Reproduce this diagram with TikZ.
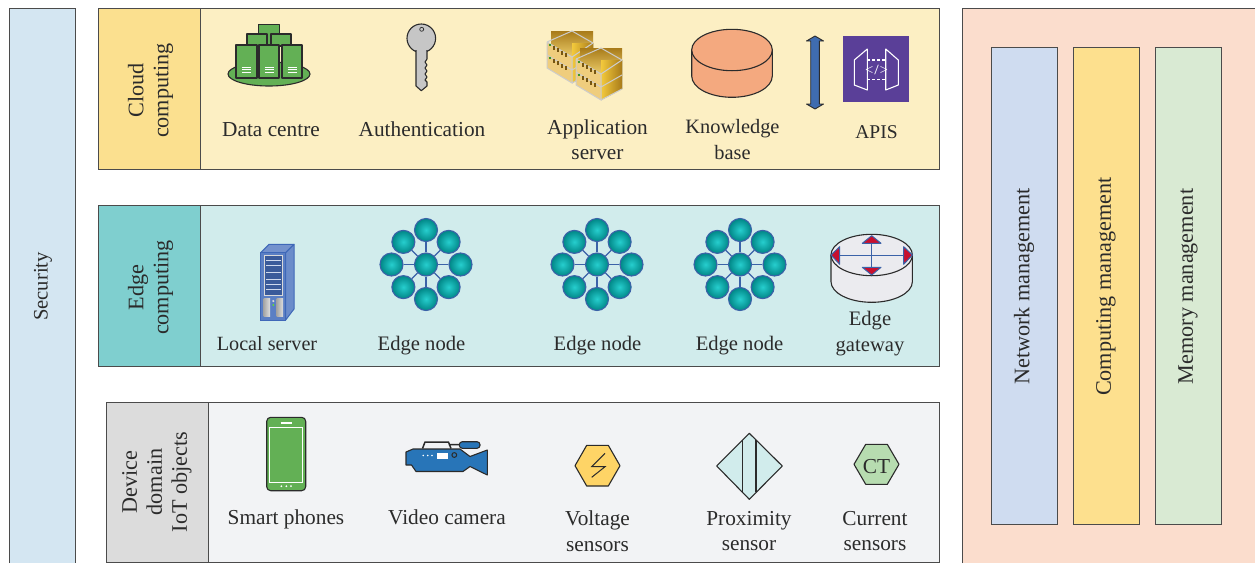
\documentclass[tikz,border=0pt]{standalone}
\usepackage{fontspec}
\setmainfont{Liberation Serif}
\usetikzlibrary{calc}
\definecolor{ink}{HTML}{2B2B2B}
\definecolor{ballblue}{HTML}{3B62A8}
\definecolor{gold1}{HTML}{F3C93C}
\definecolor{gold2}{HTML}{A87B1A}
\definecolor{rackface}{HTML}{E8B845}
\definecolor{securitybg}{RGB}{212,230,242}
\definecolor{rightbg}{RGB}{251,221,205}
\definecolor{salmon}{RGB}{244,169,127}
\definecolor{arrowblue}{RGB}{63,108,176}
\definecolor{apipurple}{RGB}{90,63,152}
\definecolor{voltc}{RGB}{254,212,102}
\definecolor{ctc}{RGB}{183,220,176}
\definecolor{srvdark}{RGB}{58,90,154}
\tikzset{
  x=1pt,y=-1pt,
  every node/.style={font=\fontsize{21.3}{25.5}\selectfont,text=ink,align=center,inner sep=0pt},
  lab/.style={anchor=base},
  ink line/.style={draw=ink,line width=1.1pt,line join=round},
  box line/.style={draw=ink!85,line width=1pt},
  ball/.style={circle,draw=ballblue,line width=1.1pt,minimum size=23pt,inner color=teal!45!cyan!85!white,outer color=teal!95!cyan},
  spoke/.style={draw=ballblue,line width=1.1pt},
  rot/.style={rotate=90,font=\fontsize{22.2}{25}\selectfont},
  pics/edgenode/.style={code={
    \node[ball] (-m) at (0,0) {};
    \foreach \a/\n in {0/a,45/b,90/c,135/d,180/e,225/f,270/g,315/h}{
      \pgfmathsetmacro{\r}{mod(\a,90)==0?34.5:32}
      \node[ball] (-\n) at ({\r*cos(\a)},{\r*sin(\a)}) {};
      \draw[spoke] (-m) -- (-\n);
    }
  }},
  pics/rack/.style={code={
    \fill[top color=gold2,bottom color=gold1!70!white] (4,0) rectangle (46,30);
    \fill[rackface!70!white] (0,11) -- (25,26) -- (25,52) -- (0,37) -- cycle;
    \fill[left color=gold1,right color=gold2] (25,12) -- (46,12) -- (46,41) -- (25,52) -- cycle;
    \draw[gray!40,line width=1pt] (0,11) -- (25,0) -- (46,12) (0,11) -- (25,26) -- (46,12)
      (0,11) -- (0,37) -- (25,52) -- (25,26) (0,24) -- (25,39) -- (46,27) (25,52) -- (46,41);
    \foreach \y in {14,27}{
      \foreach \i in {0,1,2,3}{\fill[gold2!70!black] ({6+\i*4},{\y+\i*2.4+1}) rectangle +(1.6,4);}
      \fill[green!50!black] (3,\y) circle (1.2);
    }
  }}
}
\begin{document}
\begin{tikzpicture}
\useasboundingbox (0,0) rectangle (1255,563);
% side panels
\fill[securitybg] (9,8.5) rectangle (75,563);
\draw[box line] (9,563) -- (9,8.5) -- (75,8.5) -- (75,563);
\node[rot,font=\fontsize{20.6}{25}\selectfont] (security) at (43,286.5) {Security};
\fill[rightbg] (962,8.5) rectangle (1255,563);
\draw[box line] (962,563) -- (962,8.5) -- (1255,8.5);
\foreach \nm/\xa/\col/\tx in {net/991/{207,220,240}/Network management,cmp/1073/{253,224,142}/Computing management,mem/1155/{217,234,211}/Memory management}{
  \definecolor{tmpc}{RGB}{\col}
  \draw[box line,fill=tmpc] (\xa,47.5) rectangle +(66,476.5);
  \node[rot] (\nm) at (\xa+33,286.5) {\tx};
}
% layers
\definecolor{cloudbg}{HTML}{FCEFC3}\definecolor{cloudhd}{HTML}{FBE08F}
\definecolor{edgebg}{HTML}{D1ECEC}\definecolor{edgehd}{HTML}{7FCFCF}
\definecolor{devbg}{HTML}{F2F3F5}\definecolor{devhd}{HTML}{DCDCDC}
\draw[box line,fill=cloudbg] (98,8.5) rectangle (939,169.5);
\draw[box line,fill=cloudhd] (98,8.5) rectangle (200,169.5);
\draw[box line,fill=edgebg] (98,205.5) rectangle (939,366.5);
\draw[box line,fill=edgehd] (98,205.5) rectangle (200,366.5);
\draw[box line,fill=devbg] (106,402.5) rectangle (939,562);
\draw[box line,fill=devhd] (106,402.5) rectangle (208,562);
\node[rot] (cloudlbl) at (150.5,90.5) {Cloud\\computing};
\node[rot] (edgelbl) at (150.5,287.5) {Edge\\computing};
\node[rot] (devlbl) at (157,482) {Device\\domain\\IoT objects};
% data centre
\definecolor{dcg}{HTML}{63B055}
\draw[ink line,fill=dcg] (269,74) ellipse (41 and 12);
\foreach \a/\b/\c/\d in {258.5/24.5/279.5/46,247/34/267/46,271/34/291/46,236/45/257/78,259/45/279/78,282/45/302/78}{
  \draw[ink line,fill=dcg] (\a,\b) rectangle (\c,\d);
}
\foreach \xx in {246.5,269,292}{
  \foreach \yy in {67,69.5,72}{ \draw[white,line width=.7pt] (\xx-4.5,\yy) -- (\xx+4.5,\yy); }
}
\node[lab] (datacentre) at (271,136) {Data centre};
% key
\draw[ink line,fill=gray!45] (421.3,38.3) circle (14.3);
\draw[ink line,fill=gray!45] (416,50) -- (416,86) -- (421.3,90.7) -- (427,86) -- (427,82) -- (425,80) -- (427,77) -- (425,74) -- (427,71) -- (425,68) -- (427,65) -- (425,62) -- (427,59) -- (427,50);
\fill[gray!45] (417,48) rectangle (426,53);
\draw[ink,line width=.7pt] (421.7,29.3) circle (2);
\node[lab] (auth) at (422,136) {Authentication};
% application server
\pic at (547,31) {rack};
\pic at (576,48) {rack};
\node (appsrv) at (597.5,139.5) {Application\\server};
% knowledge base
\draw[ink line,fill=salmon] (691.7,50) -- (691.7,76) arc[start angle=180,delta angle=-180,x radius=40.3,y radius=21.3] -- (772.3,50) -- cycle;
\draw[ink line,fill=salmon] (732,50) ellipse (40.3 and 20.7);
\node[font=\fontsize{20.4}{25.5}\selectfont] (kb) at (732.5,139.5) {Knowledge\\base};
% double arrow
\draw[ink,line width=.9pt,fill=arrowblue,line join=round]
 (815,36) -- (823.5,41) -- (819.3,41) -- (819.3,104) -- (823.5,104) -- (815,109) -- (806.5,104) -- (810.7,104) -- (810.7,41) -- (806.5,41) -- cycle;
% API
\fill[apipurple] (843,36) rectangle (909,102);
\draw[white,line width=1.1pt,line join=round] (854.3,60) -- (867.3,49) -- (867.3,90) -- (854.3,85) -- cycle
  (898.3,60) -- (885.7,49) -- (885.7,90) -- (898.3,85) -- cycle;
\draw[white,line width=1.1pt,dash pattern=on 2.5pt off 2.5pt] (867.3,60) -- (885.7,60) (867.3,79.3) -- (885.7,79.3);
\node[text=white,font=\sffamily\bfseries\fontsize{10}{10}\selectfont] (apiglyph) at (876.5,69.5) {</>};
\node[lab,font=\fontsize{19.5}{25}\selectfont] (apis) at (876.5,138) {APIS};
% local server
\definecolor{srv}{HTML}{5B7FC4}\definecolor{srvl}{HTML}{3F68B8}
\draw[srvl,line width=1pt,fill=srv!85!white,line join=round] (260.7,252.7) -- (269,244.3) -- (294,244.3) -- (285.7,252.7) -- cycle;
\draw[srvl,line width=1pt,fill=srv!90!white,line join=round] (285.7,252.7) -- (294,244.3) -- (294,309) -- (285.7,320) -- cycle;
\draw[srvl,line width=1pt,fill=srv] (260.7,252.7) rectangle (285.7,320);
\draw[gray!30,line width=.8pt,fill=srvdark] (264,255.7) rectangle (282.7,295);
\foreach \yy in {260,265,272,279,284,289}{ \draw[white!70!srv,line width=.6pt] (266,\yy) -- (280.5,\yy); }
\fill[left color=gray!70,right color=gray!25] (263.5,298.3) rectangle (270,316.5);
\fill[left color=gray!70,right color=gray!25] (276.7,298.3) rectangle (283.2,316.5);
\fill[gray!30] (273.3,301) circle (1.2);
\fill[green!60!yellow] (273.3,305) circle (.9);
\node[lab,font=\fontsize{20.2}{25}\selectfont] (localsrv) at (267,350) {Local server};
% edge nodes
\pic (en1) at (426,264.5) {edgenode};
\pic (en2) at (597,264.5) {edgenode};
\pic (en3) at (740,264.5) {edgenode};
\node[lab,font=\fontsize{20.6}{25}\selectfont] (en1l) at (421.5,350) {Edge node};
\node[lab,font=\fontsize{20.6}{25}\selectfont] (en2l) at (597.5,350) {Edge node};
\node[lab,font=\fontsize{20.6}{25}\selectfont] (en3l) at (739.5,350) {Edge node};
% gateway
\definecolor{gw}{HTML}{EBEBEF}\definecolor{gwr}{HTML}{C8102E}
\draw[ink line,fill=gw] (831,255) -- (831,281.6) arc[start angle=180,delta angle=-180,x radius=40.7,y radius=20.7] -- (912.4,255) -- cycle;
\draw[ink line,fill=gw] (871.7,255) ellipse (40.7 and 20.7);
\draw[ballblue,line width=1pt] (831,255) -- (912.4,255) (871.7,236) -- (871.7,275);
\foreach \p in {{(871.7,235.7) -- (862.3,243.3) -- (881,243.3)},{(862.3,267.3) -- (881,267.3) -- (871.7,275)},{(831,255) -- (839.7,246.7) -- (839.7,264.3)},{(912.4,255) -- (903.7,246.7) -- (903.7,264.3)}}{
  \draw[ballblue,line width=1pt,fill=gwr,line join=round] \p -- cycle;
}
\node[font=\fontsize{20.6}{25.5}\selectfont] (gwl) at (870,333.5) {Edge\\gateway};
% phone
\draw[ink line,fill=dcg,rounded corners=4pt] (266.7,417.3) rectangle (305.7,490.7);
\draw[white,line width=.9pt] (269.3,427.3) rectangle (302.7,482.3);
\draw[white,line width=1.1pt] (280.7,423) -- (291.7,423);
\foreach \xx in {281.3,286.3,291}{ \fill[white] (\xx,486.2) circle (1); }
\node[lab] (phones) at (286,524) {Smart phones};
% camera
\definecolor{cam}{HTML}{2875B8}
\draw[ink line,line width=1.5pt] (422.5,448.5) -- (425,442) -- (448.5,442) -- (451,448.5) (448.5,444.5) -- (460,444.5);
\draw[ink line,fill=cam,rounded corners=3pt] (459.3,441.7) rectangle (480,448.3);
\draw[ink line,fill=cam] (406,452) -- (413,449) -- (460,449) -- (470,456.5) -- (487.3,450) -- (487.3,475) -- (470,466.5) -- (463,471.5) -- (416,471.5) -- (411.5,465) -- (406,465) -- cycle;
\fill[white] (436.7,453.3) rectangle (448.3,458.5);
\foreach \xx in {423.3,427.7,432}{ \fill[white] (\xx,455.5) circle (.9); }
\draw[ink,line width=1pt] (454.3,455) circle (2.4);
\node[lab] (camera) at (447,524) {Video camera};
% voltage
\draw[ink line,fill=voltc] (575,465.7) -- (586.7,445.3) -- (608.3,445.3) -- (620,465.7) -- (608.3,486) -- (586.7,486) -- cycle;
\draw[ink,line width=1pt] (605,453.3) -- (591.7,466.7) -- (605,466.7) -- (591.7,477.3);
\node (volt) at (597.5,531) {Voltage\\sensors};
% proximity
\draw[ink line,fill=edgebg] (749.3,433.3) -- (782.3,466) -- (749.3,499.3) -- (716.7,466) -- cycle;
\draw[ink,line width=1.1pt] (742.7,439.8) -- (742.7,492.4) (756,439.8) -- (756,492.4);
\node (prox) at (749,531) {Proximity\\sensor};
% current
\draw[ink line,fill=ctc] (854,464.3) -- (865.7,444.3) -- (887.3,444.3) -- (899,464.3) -- (887.3,484.3) -- (865.7,484.3) -- cycle;
\node (ct) at (876.5,467) {CT};
\node (curr) at (875,531) {Current\\sensors};
\end{tikzpicture}
\end{document}
